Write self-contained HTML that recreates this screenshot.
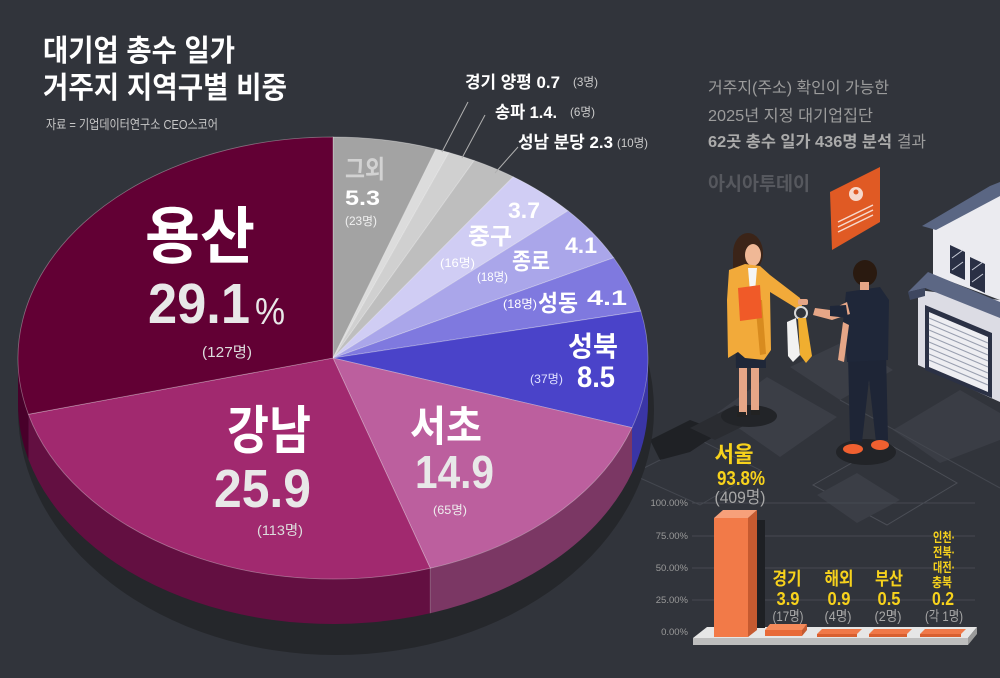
<!DOCTYPE html>
<html><head><meta charset="utf-8"><style>
html,body{margin:0;padding:0;background:#31343b;}
svg{display:block;}
text{font-family:"Liberation Sans","Noto Sans CJK KR",sans-serif;}
.b{font-weight:700;}
</style></head><body>
<svg width="1000" height="678" viewBox="0 0 1000 678" xmlns="http://www.w3.org/2000/svg">
<rect width="1000" height="678" fill="#31343b"/>

<!-- isometric ground -->
<polygon points="767,377 837,417 780,457 717,413" fill="#3b3e46"/>
<polygon points="847,340 893,370 840,400 790,367" fill="#3b3e46"/>
<polygon points="960,390 1000,413 1000,440 940,463 893,430" fill="#3a3d45"/>
<polygon points="813,485 887,443 957,483 887,525" fill="none" stroke="#4b4e56" stroke-width="1"/>
<polygon points="817,495 857,473 900,500 857,523" fill="#3b3e46"/>
<polyline points="640,470 700,440 760,470 700,505 640,478" fill="none" stroke="#44474f" stroke-width="1"/>
<line x1="840" y1="400" x2="1000" y2="488" stroke="#44474f" stroke-width="1"/>
<polygon points="650,440 690,420 722,432 705,442 690,452 660,460" fill="#1f2125"/>
<polygon points="690,428 735,405 760,418 715,440" fill="#2a2c31"/>

<!-- pie shadow -->
<ellipse cx="336" cy="410" rx="318" ry="245" fill="#25272b"/>

<!-- pie walls -->
<path d="M648 358 A315 221 0 0 1 632 427.6 L632 472.6 A315 221 0 0 0 648 403 Z" fill="#3a35a6"/>
<path d="M632 427.6 A315 221 0 0 1 430.3 568.2 L430.3 613.2 A315 221 0 0 0 632 472.6 Z" fill="#7b3764"/>
<path d="M430.3 568.2 A315 221 0 0 1 28.4 414.3 L28.4 459.3 A315 221 0 0 0 430.3 613.2 Z" fill="#630f41"/>
<path d="M28.4 414.3 A315 221 0 0 1 18 358 L18 403 A315 221 0 0 0 28.4 459.3 Z" fill="#48002a"/>
<line x1="430.3" y1="568.2" x2="430.3" y2="613.2" stroke="rgba(255,255,255,0.25)" stroke-width="1"/>

<!-- pie top -->
<g stroke="rgba(255,255,255,0.35)" stroke-width="0.8">
<path d="M333 358 L333 137 A315 221 0 0 1 436.0 149.1 Z" fill="#a3a3a3"/>
<path d="M333 358 L436.0 149.1 A315 221 0 0 1 448.9 152.5 Z" fill="#dcdcdc"/>
<path d="M333 358 L448.9 152.5 A315 221 0 0 1 474.2 160.5 Z" fill="#d0d0d0"/>
<path d="M333 358 L474.2 160.5 A315 221 0 0 1 513.3 176.8 Z" fill="#bebebe"/>
<path d="M333 358 L513.3 176.8 A315 221 0 0 1 568.0 210.8 Z" fill="#d0cdf4"/>
<path d="M333 358 L568.0 210.8 A315 221 0 0 1 613.7 257.7 Z" fill="#aaa6ea"/>
<path d="M333 358 L613.7 257.7 A315 221 0 0 1 640.8 311.1 Z" fill="#7f79df"/>
<path d="M333 358 L640.8 311.1 A315 221 0 0 1 632.0 427.6 Z" fill="#4a43c9"/>
<path d="M333 358 L632.0 427.6 A315 221 0 0 1 430.3 568.2 Z" fill="#bc5f9e"/>
<path d="M333 358 L430.3 568.2 A315 221 0 0 1 28.4 414.3 Z" fill="#a1296f"/>
<path d="M333 358 L28.4 414.3 A315 221 0 0 1 333 137 Z" fill="#620034"/>
</g>

<!-- title -->
<text x="43" y="61" font-size="30" class="b" fill="#ffffff" textLength="192" lengthAdjust="spacingAndGlyphs">대기업 총수 일가</text>
<text x="43" y="98" font-size="30" class="b" fill="#ffffff" textLength="244" lengthAdjust="spacingAndGlyphs">거주지 지역구별 비중</text>
<text x="46" y="129" font-size="13" fill="#c8c8c8" textLength="172" lengthAdjust="spacingAndGlyphs">자료 = 기업데이터연구소 CEO스코어</text>

<!-- right text -->
<text x="708" y="93" font-size="16" fill="#9c9c9c" textLength="181" lengthAdjust="spacingAndGlyphs">거주지(주소) 확인이 가능한</text>
<text x="708" y="121" font-size="16" fill="#9c9c9c" textLength="165" lengthAdjust="spacingAndGlyphs">2025년 지정 대기업집단</text>
<text x="708" y="147" font-size="16" class="b" fill="#ababab" textLength="184" lengthAdjust="spacingAndGlyphs">62곳 총수 일가 436명 분석</text>
<text x="897" y="147" font-size="16" fill="#9c9c9c" textLength="29" lengthAdjust="spacingAndGlyphs">결과</text>
<text x="708" y="190" font-size="19" class="b" fill="#56585e" textLength="102" lengthAdjust="spacingAndGlyphs">아시아투데이</text>

<!-- annotations -->
<g stroke="#b0b0b0" stroke-width="1">
<line x1="468" y1="102" x2="442" y2="152"/>
<line x1="485" y1="115" x2="462" y2="158"/>
<line x1="518" y1="147" x2="495" y2="173"/>
</g>
<text x="465" y="88" font-size="17" class="b" fill="#ffffff" textLength="95" lengthAdjust="spacingAndGlyphs">경기 양평 0.7</text>
<text x="573" y="86" font-size="12" fill="#cccccc" textLength="25" lengthAdjust="spacingAndGlyphs">(3명)</text>
<text x="495" y="118" font-size="17" class="b" fill="#ffffff" textLength="62" lengthAdjust="spacingAndGlyphs">송파 1.4.</text>
<text x="570" y="116" font-size="12" fill="#cccccc" textLength="25" lengthAdjust="spacingAndGlyphs">(6명)</text>
<text x="518" y="148" font-size="17" class="b" fill="#ffffff" textLength="95" lengthAdjust="spacingAndGlyphs">성남 분당 2.3</text>
<text x="617" y="147" font-size="12" fill="#cccccc" textLength="31" lengthAdjust="spacingAndGlyphs">(10명)</text>

<!-- pie labels -->
<text x="145" y="258" font-size="62" class="b" fill="#ffffff" textLength="110" lengthAdjust="spacingAndGlyphs">용산</text>
<text x="148" y="323" font-size="57" class="b" fill="#e8e8e8" textLength="102" lengthAdjust="spacingAndGlyphs">29.1</text>
<text x="255" y="324" font-size="38" fill="#e8e8e8" textLength="30" lengthAdjust="spacingAndGlyphs">%</text>
<text x="202" y="357" font-size="15" fill="#dddddd" textLength="50" lengthAdjust="spacingAndGlyphs">(127명)</text>

<text x="227" y="449" font-size="52" class="b" fill="#ffffff" textLength="84" lengthAdjust="spacingAndGlyphs">강남</text>
<text x="214" y="507" font-size="54" class="b" fill="#e8e8e8" textLength="97" lengthAdjust="spacingAndGlyphs">25.9</text>
<text x="257" y="535" font-size="14" fill="#dddddd" textLength="46" lengthAdjust="spacingAndGlyphs">(113명)</text>

<text x="410" y="441" font-size="42" class="b" fill="#ffffff" textLength="72" lengthAdjust="spacingAndGlyphs">서초</text>
<text x="415" y="488" font-size="46" class="b" fill="#e8e8e8" textLength="79" lengthAdjust="spacingAndGlyphs">14.9</text>
<text x="433" y="514" font-size="12" fill="#eeeeee" textLength="34" lengthAdjust="spacingAndGlyphs">(65명)</text>

<text x="345" y="178" font-size="25" class="b" fill="#d2d2d2" textLength="40" lengthAdjust="spacingAndGlyphs">그외</text>
<text x="345" y="205" font-size="21" class="b" fill="#ffffff" textLength="35" lengthAdjust="spacingAndGlyphs">5.3</text>
<text x="345" y="225" font-size="11.5" fill="#f0f0f0" textLength="32" lengthAdjust="spacingAndGlyphs">(23명)</text>

<text x="508" y="218" font-size="22" class="b" fill="#ffffff" textLength="32" lengthAdjust="spacingAndGlyphs">3.7</text>
<text x="468" y="244" font-size="23" class="b" fill="#ffffff" textLength="44" lengthAdjust="spacingAndGlyphs">중구</text>
<text x="440" y="267" font-size="12" fill="#ffffff" textLength="35" lengthAdjust="spacingAndGlyphs">(16명)</text>
<text x="512" y="269" font-size="23" class="b" fill="#ffffff" textLength="38" lengthAdjust="spacingAndGlyphs">종로</text>
<text x="565" y="253" font-size="22" class="b" fill="#ffffff" textLength="32" lengthAdjust="spacingAndGlyphs">4.1</text>
<text x="477" y="281" font-size="12" fill="#ffffff" textLength="31" lengthAdjust="spacingAndGlyphs">(18명)</text>
<text x="538" y="311" font-size="23" class="b" fill="#ffffff" textLength="40" lengthAdjust="spacingAndGlyphs">성동</text>
<text x="587" y="305" font-size="21" class="b" fill="#ffffff" textLength="40" lengthAdjust="spacingAndGlyphs">4.1</text>
<text x="503" y="308" font-size="12" fill="#ffffff" textLength="34" lengthAdjust="spacingAndGlyphs">(18명)</text>
<text x="568" y="356" font-size="28" class="b" fill="#ffffff" textLength="50" lengthAdjust="spacingAndGlyphs">성북</text>
<text x="577" y="387" font-size="30" class="b" fill="#ffffff" textLength="38" lengthAdjust="spacingAndGlyphs">8.5</text>
<text x="530" y="383" font-size="12" fill="#e0e0ff" textLength="33" lengthAdjust="spacingAndGlyphs">(37명)</text>

<!-- orange card -->
<polygon points="830,192 880,167 880,222 832,250" fill="#e05a24"/>
<circle cx="856" cy="194" r="7" fill="#f6d9cc"/>
<circle cx="856" cy="192" r="2.5" fill="#e05a24"/>
<g stroke="#f6d9cc" stroke-width="1.5">
<line x1="838" y1="222" x2="873" y2="205"/>
<line x1="838" y1="227" x2="873" y2="210"/>
<line x1="838" y1="232" x2="873" y2="215"/>
</g>

<!-- house -->
<polygon points="918,290 918,365 1000,402 1000,300" fill="#dcdce4"/>
<polygon points="933,225 995,190 1000,192 1000,300 933,275" fill="#ebebf0"/>
<polygon points="922,226 990,186 1000,182 1000,196 936,230" fill="#5a6683"/>
<polygon points="950,245 965,252 965,280 950,273" fill="#2a3045"/>
<polygon points="970,257 985,264 985,293 970,286" fill="#2a3045"/>
<g stroke="#c8ccd8" stroke-width="1"><line x1="952" y1="258" x2="963" y2="250"/><line x1="952" y1="270" x2="963" y2="262"/><line x1="972" y1="270" x2="983" y2="262"/><line x1="972" y1="282" x2="983" y2="274"/></g>
<polygon points="908,292 928,272 1000,302 1000,318 925,288" fill="#5c6784"/>
<polygon points="908,292 925,288 925,296 910,300" fill="#3e4760"/>
<polygon points="925,305 992,333 992,398 925,370" fill="#2b3145"/>
<polygon points="929,312 988,337 988,392 929,367" fill="#eeeef2"/>
<g stroke="#9aa0b0" stroke-width="1.2">
<line x1="929" y1="318" x2="988" y2="343"/><line x1="929" y1="324" x2="988" y2="349"/><line x1="929" y1="330" x2="988" y2="355"/><line x1="929" y1="336" x2="988" y2="361"/><line x1="929" y1="342" x2="988" y2="367"/><line x1="929" y1="348" x2="988" y2="373"/><line x1="929" y1="354" x2="988" y2="379"/><line x1="929" y1="360" x2="988" y2="385"/>
</g>

<!-- woman -->
<ellipse cx="749" cy="416" rx="28" ry="11" fill="#222428"/>
<rect x="739" y="365" width="8" height="50" fill="#e6a687"/>
<rect x="751" y="365" width="8" height="48" fill="#e6a687"/>
<rect x="737" y="412" width="9" height="5" fill="#222"/>
<rect x="751" y="410" width="9" height="5" fill="#222"/>
<polygon points="735,330 765,330 766,368 736,368" fill="#1f2738"/>
<ellipse cx="748" cy="253" rx="15" ry="20" fill="#3b2418"/>
<rect x="733" y="253" width="12" height="20" fill="#3b2418"/>
<ellipse cx="753" cy="255" rx="8" ry="11" fill="#f0b896"/>
<polygon points="729,270 745,264 760,266 770,275 800,298 802,306 796,308 770,292 771,350 764,360 745,358 738,352 728,358 727,300" fill="#f2aa3a"/>
<polygon points="748,268 757,268 755,292 750,292" fill="#f5f5f5"/>
<polygon points="755,300 760,355 766,354 762,300" fill="#d88b1f"/>
<polygon points="738,288 760,285 762,318 740,321" fill="#f05a28"/>
<rect x="798" y="299" width="10" height="6" rx="2" fill="#e6a687"/>
<circle cx="801" cy="313" r="6" fill="none" stroke="#d8d8d8" stroke-width="2"/>
<polygon points="787,322 796,318 800,355 793,362 788,356" fill="#f2f2f2"/>
<polygon points="798,318 806,318 812,356 806,363 800,355" fill="#f0ae30"/>

<!-- man -->
<ellipse cx="866" cy="452" rx="30" ry="13" fill="#222428"/>
<polygon points="848,355 886,352 888,440 876,442 869,380 862,442 850,440" fill="#1e2536"/>
<ellipse cx="853" cy="449" rx="10" ry="5" fill="#f06030"/>
<ellipse cx="880" cy="445" rx="9" ry="5" fill="#f06030"/>
<polygon points="846,292 880,287 889,300 888,360 847,362 843,322" fill="#1f2739"/>
<polygon points="847,302 830,310 815,308 813,315 832,320 850,314" fill="#e6a687"/>
<polygon points="846,305 830,306 830,316 848,318" fill="#1f2739"/>
<polygon points="843,322 838,360 844,362 849,325" fill="#e6a687"/>
<ellipse cx="865" cy="273" rx="12" ry="13" fill="#2a1a10"/>
<rect x="860" y="282" width="9" height="8" fill="#e6a687"/>

<!-- bar chart -->
<g stroke="#464951" stroke-width="1">
<line x1="692" y1="503" x2="975" y2="503"/>
<line x1="692" y1="536" x2="975" y2="536"/>
<line x1="692" y1="568" x2="975" y2="568"/>
<line x1="692" y1="600" x2="975" y2="600"/>
</g>
<g font-size="9.5" fill="#9a9a9a" text-anchor="end">
<text x="688" y="506">100.00%</text>
<text x="688" y="539">75.00%</text>
<text x="688" y="571">50.00%</text>
<text x="688" y="603">25.00%</text>
<text x="688" y="635">0.00%</text>
</g>
<polygon points="707,627 977,627 968,638 693,638" fill="#e6e6e6"/>
<polygon points="693,638 968,638 968,645 693,645" fill="#bdbdbd"/>
<polygon points="968,638 977,627 977,634 968,645" fill="#9a9a9a"/>
<!-- seoul bar -->
<rect x="757" y="520" width="8" height="108" fill="#1e2024"/>
<polygon points="714,518 748,518 748,637 714,637" fill="#f27a48"/>
<polygon points="748,518 757,510 757,630 748,637" fill="#c65a30"/>
<polygon points="714,518 723,510 757,510 748,518" fill="#f7a07a"/>
<!-- small bars -->
<polygon points="770,624 807,624 802,630 765,630" fill="#f58a5a"/>
<polygon points="765,630 802,630 802,636 765,636" fill="#e86a38"/>
<polygon points="802,630 807,624 807,630 802,636" fill="#c45a30"/>
<polygon points="822,629 862,629 857,634 817,634" fill="#f07848"/>
<polygon points="817,634 857,634 857,637 817,637" fill="#d85f30"/>
<polygon points="874,629 912,629 907,634 869,634" fill="#f07848"/>
<polygon points="869,634 907,634 907,637 869,637" fill="#d85f30"/>
<polygon points="925,629 966,629 961,634 920,634" fill="#f07848"/>
<polygon points="920,634 961,634 961,637 920,637" fill="#d85f30"/>

<!-- bar labels -->
<g fill="#f7d21c" class="b" text-anchor="middle">
<text x="734" y="462" font-size="22" textLength="39" lengthAdjust="spacingAndGlyphs">서울</text>
<text x="741" y="485" font-size="20" textLength="48" lengthAdjust="spacingAndGlyphs">93.8%</text>
<text x="787" y="585" font-size="18" textLength="29" lengthAdjust="spacingAndGlyphs">경기</text>
<text x="788" y="605" font-size="18" textLength="23" lengthAdjust="spacingAndGlyphs">3.9</text>
<text x="839" y="585" font-size="18" textLength="29" lengthAdjust="spacingAndGlyphs">해외</text>
<text x="839" y="605" font-size="18" textLength="23" lengthAdjust="spacingAndGlyphs">0.9</text>
<text x="889" y="585" font-size="18" textLength="28" lengthAdjust="spacingAndGlyphs">부산</text>
<text x="889" y="605" font-size="18" textLength="23" lengthAdjust="spacingAndGlyphs">0.5</text>
<text x="944" y="542" font-size="13" textLength="22" lengthAdjust="spacingAndGlyphs">인천·</text>
<text x="944" y="557" font-size="13" textLength="22" lengthAdjust="spacingAndGlyphs">전북·</text>
<text x="944" y="572" font-size="13" textLength="22" lengthAdjust="spacingAndGlyphs">대전·</text>
<text x="942" y="587" font-size="13" textLength="20" lengthAdjust="spacingAndGlyphs">충북</text>
<text x="943" y="605" font-size="18" textLength="22" lengthAdjust="spacingAndGlyphs">0.2</text>
</g>
<g fill="#a8a8a8" text-anchor="middle">
<text x="740" y="503" font-size="17" textLength="51" lengthAdjust="spacingAndGlyphs">(409명)</text>
<text x="788" y="621" font-size="14" textLength="31" lengthAdjust="spacingAndGlyphs">(17명)</text>
<text x="838" y="621" font-size="14" textLength="27" lengthAdjust="spacingAndGlyphs">(4명)</text>
<text x="888" y="621" font-size="14" textLength="27" lengthAdjust="spacingAndGlyphs">(2명)</text>
<text x="944" y="621" font-size="14" textLength="38" lengthAdjust="spacingAndGlyphs">(각 1명)</text>
</g>
</svg>
</body></html>
